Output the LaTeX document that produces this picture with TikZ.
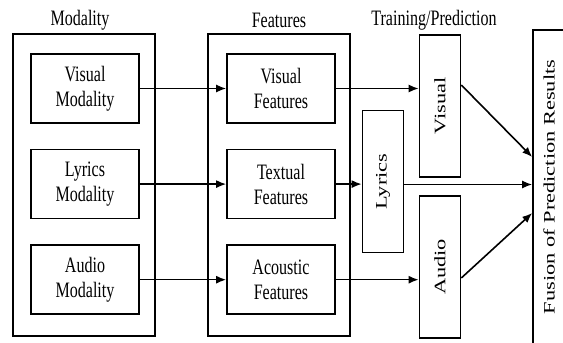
\documentclass[tikz,border=0pt]{standalone}
\usepackage{fontspec}
\setmainfont{Liberation Serif}[FakeStretch=0.73]
\newfontfamily\vertfont{Liberation Serif}[FakeStretch=1.4]
\usetikzlibrary{arrows.meta, positioning}

\begin{document}
\begin{tikzpicture}[x=1pt, y=1pt, node distance=25pt,
          groupbox/.style={rectangle, draw=black, line width=1.5pt, minimum width=142pt, minimum height=302pt},
          srcbox/.style={rectangle, draw=black, line width=1.6pt, minimum width=108pt, minimum height=69pt, align=center, inner sep=0pt, font=\rmfamily\fontsize{22}{25}\selectfont},
          trainbox/.style={rectangle, draw=black, line width=1.6pt, rotate=90, minimum width=142pt, minimum height=41pt, inner sep=0pt, font=\vertfont\fontsize{16}{18}\selectfont},
          title/.style={font=\rmfamily\fontsize{22}{25}\selectfont, inner sep=0pt},
          arrow/.style={-{Latex[length=10pt, width=8pt]}, line width=1.6pt, color=black}]

        \useasboundingbox (0,0) rectangle (563,343);
        \clip (0,0) rectangle (563,343);

        \node [groupbox] (modgroup) at (84,158) {};
        \node [groupbox] (featgroup) at (279,158) {};

        \node [title] at (80,323) {Modality};
        \node [title] at (279,323) {Features};
        \node [title] at (434,323) {Training/Prediction};

        \node [srcbox] (vm) at (85,254.5) {Visual\\Modality};
        \node [srcbox, below=of vm] (lm) {Lyrics\\Modality};
        \node [srcbox, below=of lm] (am) {Audio\\Modality};

        \node [srcbox] (vf) at (281,254.5) {Visual\\Features};
        \node [srcbox, below=of vf] (tf) {Textual\\Features};
        \node [srcbox, below=of tf] (af) {Acoustic\\Features};

        % rotated boxes: north is the left side, south the right side
        \node [trainbox] (tv) at (440,237) {Visual};
        \node [trainbox] (tl) at (383,161.5) {Lyrics};
        \node [trainbox] (ta) at (440,76) {Audio};

        \node [trainbox, minimum width=314pt, minimum height=32pt] (fus) at (549,156) {Fusion of Prediction Results};

        \draw [arrow] (vm.east) -- (vm.east -| vf.west);
        \draw [arrow] (lm.east) -- (lm.east -| tf.west);
        \draw [arrow] (am.east) -- (am.east -| af.west);

        \draw [arrow] (vf.east) -- (vf.east -| tv.north);
        \draw [arrow] (tf.east) -- (tf.east -| tl.north);
        \draw [arrow] (af.east) -- (af.east -| ta.north);

        \draw [arrow] ([yshift=21pt]tv.south) -- ([yshift=30pt]fus.north);
        \draw [arrow] ([yshift=-3pt]tl.south) -- ([yshift=-3pt]tl.south -| fus.north);
        \draw [arrow] ([yshift=-11pt]ta.south) -- ([yshift=-26pt]fus.north);
      \end{tikzpicture}
\end{document}
